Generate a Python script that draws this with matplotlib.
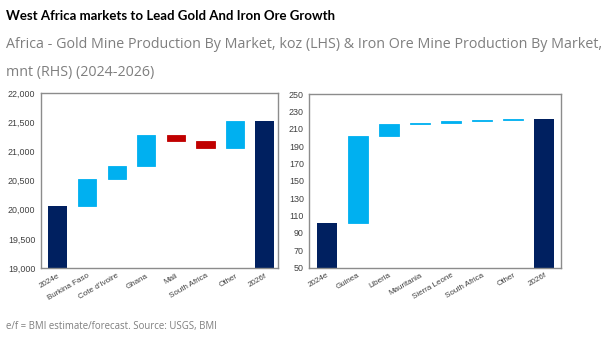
import matplotlib.pyplot as plt

# gold, koz (LHS)
gold_labels = ['2024e', 'Burkina Faso', "Cote d'Ivoire", 'Ghana', 'Mali',
               'South Africa', 'Other', '2026f']
gold_start = 20070
gold_changes = [460, 220, 530, -110, -120, 470]

# iron ore, mnt (RHS)
iron_labels = ['2024e', 'Guinea', 'Liberia', 'Mauritania', 'Sierra Leone',
               'South Africa', 'Other', '2026f']
iron_start = 101
iron_changes = [100.5, 14, 1.5, 2.3, 1.2, 1.1]

NAVY = '#002060'
BLUE = '#00B0F0'
RED = '#C00000'

plt.rcParams['font.family'] = ['Liberation Sans', 'DejaVu Sans']


def waterfall(ax, start, changes, labels, ymin, width):
    total = start + sum(changes)
    ax.bar(0, start - ymin, bottom=ymin, width=width, color=NAVY)
    level = start
    for i, ch in enumerate(changes, start=1):
        color = BLUE if ch >= 0 else RED
        ax.bar(i, abs(ch), bottom=min(level, level + ch), width=width,
               color=color, edgecolor=color, linewidth=0.6)
        level += ch
    ax.bar(len(changes) + 1, total - ymin, bottom=ymin, width=width, color=NAVY)
    ax.set_xticks(range(len(labels)))
    ax.set_xticklabels(labels, rotation=30, ha='right', rotation_mode='anchor',
                       fontsize=5.8, color='#404040')
    ax.tick_params(axis='x', length=0, pad=3)
    ax.tick_params(axis='y', length=0, labelsize=6.4, colors='#404040', pad=4)
    for s in ax.spines.values():
        s.set_color('#8c8c8c')
        s.set_linewidth(1.0)


fig = plt.figure(figsize=(6.09, 3.46), dpi=100)

ax1 = fig.add_axes([0.0673, 0.2254, 0.389, 0.5058])
waterfall(ax1, gold_start, gold_changes, gold_labels, 19000, 0.62)
ax1.set_ylim(19000, 22000)
ax1.set_xlim(-0.56, 7.45)
ax1.set_yticks(range(19000, 22001, 500))
ax1.set_yticklabels([f'{v:,}' for v in range(19000, 22001, 500)])

ax2 = fig.add_axes([0.508, 0.2263, 0.414, 0.502])
waterfall(ax2, iron_start, iron_changes, iron_labels, 50, 0.64)
ax2.set_ylim(50, 250)
ax2.set_xlim(-0.56, 7.55)
ax2.set_yticks(range(50, 251, 20))

fig.text(0.01, 0.955, 'West Africa markets to Lead Gold And Iron Ore Growth',
         fontsize=9.5, fontweight='bold', family='Lato', va='center',
         color='#000000')
fig.text(0.01, 0.87, 'Africa - Gold Mine Production By Market, koz (LHS) & Iron Ore Mine Production By Market,',
         fontsize=10.3, family='Open Sans', va='center', color='#7f7f7f')
fig.text(0.01, 0.79, 'mnt (RHS) (2024-2026)',
         fontsize=10.3, family='Open Sans', va='center', color='#7f7f7f')
fig.text(0.01, 0.057, 'e/f = BMI estimate/forecast. Source: USGS, BMI',
         fontsize=6.9, family='Open Sans', va='center', color='#7f7f7f')

fig.savefig('out.png', dpi=100)
